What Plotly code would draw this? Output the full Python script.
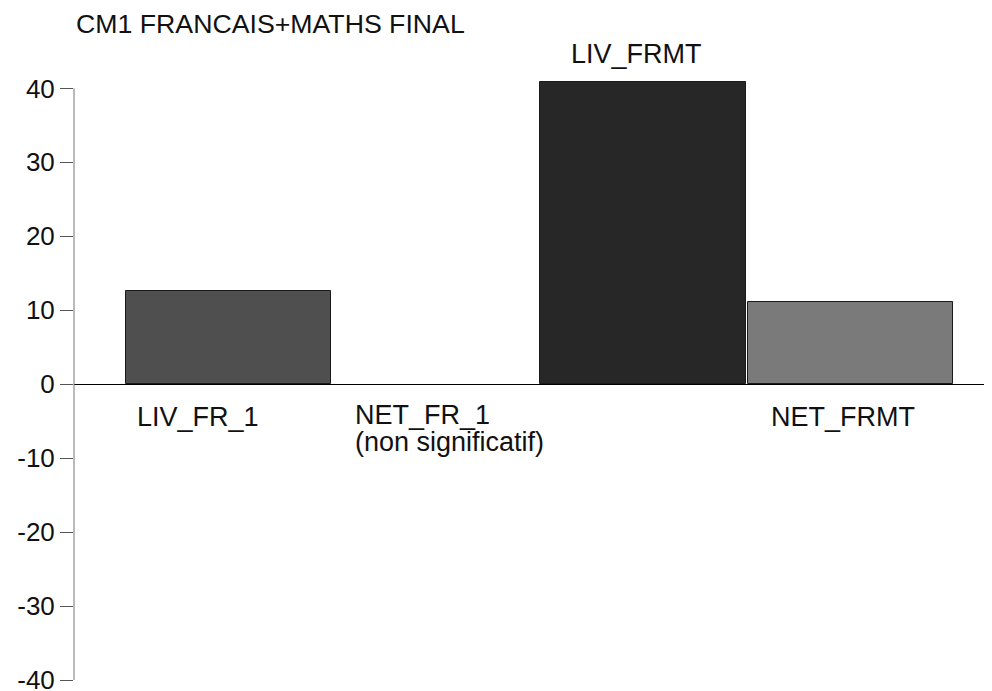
import plotly.graph_objects as go

categories = ["LIV_FR_1", "NET_FR_1", "LIV_FRMT", "NET_FRMT"]
values = [12.6, 0.0, 40.9, 11.1]
bar_colors = ["#4f4f4f", "#4f4f4f", "#272727", "#7a7a7a"]
tick_vals = [-40, -30, -20, -10, 0, 10, 20, 30, 40]
tick_text = ["-40", "-30", "-20", "-10", "0", "10", "20", "30", "40"]
title_text = "CM1 FRANCAIS+MATHS FINAL"

FONT = "Liberation Sans, Arial, Helvetica, sans-serif"
xpos = list(range(len(categories)))
Y_LO, Y_HI = -40, 41.0
PX_PER_UNIT = 7.4

fig = go.Figure()
fig.add_trace(go.Bar(
    x=xpos, y=values, width=0.99,
    marker=dict(color=bar_colors,
                line=dict(color="#1a1a1a", width=[0 if v == 0 else 1 for v in values])),
    hoverinfo="skip",
))

label_font = dict(family=FONT, size=27, color="#111111")
annotations = [
    dict(text=categories[0], x=xpos[0] - 0.147, y=-4.5, xref="x", yref="y",
         xanchor="center", yanchor="middle", showarrow=False, font=label_font),
    dict(text=categories[1], x=xpos[1] - 0.399, y=-4.1, xref="x", yref="y",
         xanchor="left", yanchor="middle", showarrow=False, font=label_font),
    dict(text="(non significatif)", x=xpos[1] - 0.399, y=-7.8, xref="x", yref="y",
         xanchor="left", yanchor="middle", showarrow=False, font=label_font),
    dict(text=categories[2], x=xpos[2] - 0.029, y=(44.7 - Y_LO) / (Y_HI - Y_LO), xref="x", yref="paper",
         xanchor="center", yanchor="middle", showarrow=False, font=label_font),
    dict(text=categories[3], x=xpos[3] - 0.035, y=-4.4, xref="x", yref="y",
         xanchor="center", yanchor="middle", showarrow=False, font=label_font),
    dict(text=title_text, x=0, y=(48.65 - Y_LO) / (Y_HI - Y_LO), xref="paper", yref="paper",
         xanchor="left", yanchor="middle", showarrow=False,
         font=dict(family=FONT, size=26.7, color="#111111")),
]

# y-axis line drawn from -40 to 40 only (bar may overshoot the top tick)
shapes = [dict(type="line", xref="paper", yref="y", x0=0, x1=0, y0=Y_LO, y1=40,
               line=dict(color="#777777", width=1))]

plot_h = (Y_HI - Y_LO) * PX_PER_UNIT
top_margin = 80 - (Y_HI - 40) * PX_PER_UNIT

fig.update_layout(
    width=984, height=683,
    margin=dict(l=66, r=2, t=top_margin, b=683 - top_margin - plot_h, autoexpand=False),
    paper_bgcolor="white", plot_bgcolor="white",
    showlegend=False,
    xaxis=dict(range=[-0.745, 3.674], showticklabels=False, showgrid=False,
               zeroline=False, showline=False, ticks="", automargin=False),
    yaxis=dict(range=[Y_LO, Y_HI], tickvals=tick_vals, ticktext=tick_text, ticks="outside", ticklen=13,
               tickcolor="#555555", tickwidth=1, showline=False,
               showgrid=False, zeroline=True, zerolinecolor="#000000",
               zerolinewidth=1, automargin=False, ticklabeloverflow="allow",
               tickfont=dict(family=FONT, size=26, color="#111111")),
    annotations=annotations,
    shapes=shapes,
    bargap=0,
)

fig.write_html("out.html")
